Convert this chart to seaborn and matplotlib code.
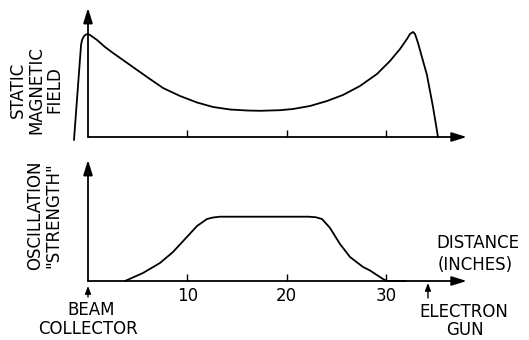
import matplotlib
matplotlib.use("Agg")
import matplotlib.pyplot as plt
import seaborn as sns
import pandas as pd

sns.set_theme(style="white")
plt.rcParams['font.family'] = ['DejaVu Sans']
plt.rcParams['text.color'] = 'black'

# ---- data (distance in inches, relative field / strength units) ----
field_x = [-1.41, -0.70, -0.60, -0.40, -0.20, 0.00, 0.20, 0.91, 1.71, 2.52, 4.23,
           5.94, 7.55, 9.26, 10.97, 12.58, 14.29, 15.99, 17.30, 19.32, 20.62,
           22.33, 24.04, 25.65, 27.36, 29.07, 30.38, 31.39, 32.09, 32.39, 32.70,
           32.90, 33.20, 34.10, 34.71, 35.21]
field_y = [-3, 92, 97, 101, 102.5, 103, 102, 97, 90, 84, 72,
           60, 49, 41, 34.5, 30, 27.5, 26.5, 26.2, 26.8, 28,
           31, 36, 42, 51, 63, 76, 88, 98, 103, 105,
           103, 94, 62, 30, 0]

osc_x = [3.72, 5.53, 7.24, 8.55, 9.76, 10.97, 11.97, 12.58, 13.3, 22.2, 22.9, 23.54,
         24.35, 25.35, 26.36, 27.67, 28.37, 29.68, 30.08, 32.0]
osc_y = [0, 8, 18, 29, 42, 55, 62, 63.5, 64.3, 64.3, 63.8, 62,
         53, 37, 24, 14, 10.5, 2, 0, 0]

tick_vals = [10, 20, 30]
tick_labels = ["10", "20", "30"]
axis_end_x = 38.1
top_axis_end_y = 129
bottom_axis_end_y = 121
beam_x = 0.0
gun_x = 34.2

W, H = 529, 340
fig = plt.figure(figsize=(W / 100, H / 100), dpi=100)
fig.patch.set_facecolor("white")

PX_PER_IN = 9.94
X0 = 88
xlim = (-X0 / PX_PER_IN, (W - X0) / PX_PER_IN)

ax_top = fig.add_axes([0, 190 / H, 1, 150 / H])
ax_bot = fig.add_axes([0, 0, 1, 190 / H])
ax_top.set_xlim(*xlim)
ax_top.set_ylim(-13, 137)
ax_bot.set_xlim(*xlim)
ax_bot.set_ylim(-59, 131)
for a in (ax_top, ax_bot):
    a.axis("off")

df_f = pd.DataFrame({"x": field_x, "y": field_y})
df_o = pd.DataFrame({"x": osc_x, "y": osc_y})
sns.lineplot(data=df_f, x="x", y="y", ax=ax_top, color="black", lw=1.3,
             sort=False, estimator=None)
sns.lineplot(data=df_o, x="x", y="y", ax=ax_bot, color="black", lw=1.3,
             sort=False, estimator=None)

big = dict(arrowstyle="-|>,head_length=0.9,head_width=0.28", color="black",
           lw=1.3, mutation_scale=10, shrinkA=0, shrinkB=0)
small = dict(arrowstyle="-|>,head_length=0.9,head_width=0.35", color="black",
             lw=1.0, mutation_scale=5, shrinkA=0, shrinkB=0)

for a, yend in ((ax_top, top_axis_end_y), (ax_bot, bottom_axis_end_y)):
    a.annotate("", xy=(axis_end_x, 0), xytext=(0, 0), arrowprops=big)
    a.annotate("", xy=(0, yend), xytext=(0, 0), arrowprops=big)
    a.vlines(tick_vals, 0, 7, color="black", lw=1.0)

FS = 12
for t, lab in zip(tick_vals, tick_labels):
    ax_bot.text(t, -15, lab, ha="center", va="center", fontsize=FS,
                color="black")

ax_bot.annotate("", xy=(beam_x, -5), xytext=(beam_x, -16), arrowprops=small)
ax_bot.annotate("", xy=(gun_x, -2), xytext=(gun_x, -17), arrowprops=small)

def ftext(px, py, s, **kw):
    fig.text(px / W, 1 - py / H, s, ha="center", va="center",
             fontsize=FS, color="black", **kw)

ftext(36, 90, "STATIC\nMAGNETIC\nFIELD", rotation=90, linespacing=1.0,
      multialignment="center")
ftext(44, 215, 'OSCILLATION\n"STRENGTH"', rotation=90, linespacing=1.0,
      multialignment="center")
ftext(478, 243, "DISTANCE")
ftext(475, 265, "(INCHES)")
ftext(91, 310, "BEAM")
ftext(88, 329, "COLLECTOR")
ftext(464, 312, "ELECTRON")
ftext(465, 330, "GUN")

fig.savefig("out.png", dpi=100, facecolor="white")
